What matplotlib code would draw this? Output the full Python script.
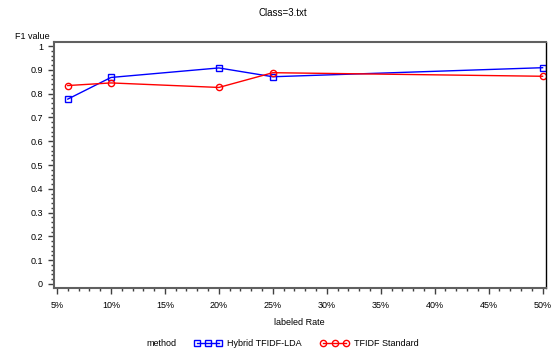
import matplotlib
matplotlib.use('Agg')
import matplotlib.pyplot as plt
from matplotlib.ticker import MultipleLocator, FuncFormatter

plt.rcParams['font.family'] = ['Liberation Sans', 'DejaVu Sans']
plt.rcParams['font.size'] = 6.5

# data
rates = [6, 10, 20, 25, 50]
hybrid = [0.777, 0.868, 0.908, 0.871, 0.909]
standard = [0.834, 0.845, 0.826, 0.888, 0.873]

fig = plt.figure(figsize=(5.53, 3.56), dpi=100)
ax = fig.add_axes([0.0976, 0.191, 0.889, 0.691])

ax.plot(rates, hybrid, color='blue', lw=1, marker='s', ms=4.5, mfc='none',
        mec='blue', mew=1, label='Hybrid TFIDF-LDA')
ax.plot(rates, standard, color='red', lw=1, marker='o', ms=4.5, mfc='none',
        mec='red', mew=1, label='TFIDF Standard')

ax.set_xlim(4.72, 50.28)
ax.set_ylim(-0.017, 1.017)
ax.xaxis.set_major_locator(MultipleLocator(5))
ax.xaxis.set_minor_locator(MultipleLocator(1))
ax.xaxis.set_major_formatter(FuncFormatter(lambda v, p: '%d%%' % round(v)))
ax.yaxis.set_major_locator(MultipleLocator(0.1))
ax.yaxis.set_minor_locator(MultipleLocator(0.02))
ax.yaxis.set_major_formatter(FuncFormatter(lambda v, p: '%g' % round(v, 1)))

for s in ['left', 'bottom', 'top']:
    ax.spines[s].set_color('#606060')
    ax.spines[s].set_linewidth(1.5)
ax.spines['right'].set_color('black')
ax.spines['right'].set_linewidth(1)

ax.tick_params(which='major', direction='out', length=4, width=1, color='#404040', labelsize=6.5, pad=4)
ax.tick_params(which='minor', direction='out', length=2.5, width=1, color='#404040')
ax.tick_params(axis='x', pad=5)

fig.text(0.512, 0.963, 'Class=3.txt', ha='center', va='center', fontsize=7)
fig.text(0.027, 0.898, 'F1 value', ha='left', va='center', fontsize=6.5)
fig.text(0.542, 0.095, 'labeled Rate', ha='center', va='center', fontsize=6.5)
fig.text(0.264, 0.036, 'method', ha='left', va='center', fontsize=6.5)

fig.legend(loc='center left', bbox_to_anchor=(0.351, 0.036), ncol=2, frameon=False,
           numpoints=3, handlelength=3.1, handletextpad=0.55, columnspacing=2.1,
           fontsize=6.5, borderpad=0, borderaxespad=0)

fig.savefig('out.png', dpi=100)
